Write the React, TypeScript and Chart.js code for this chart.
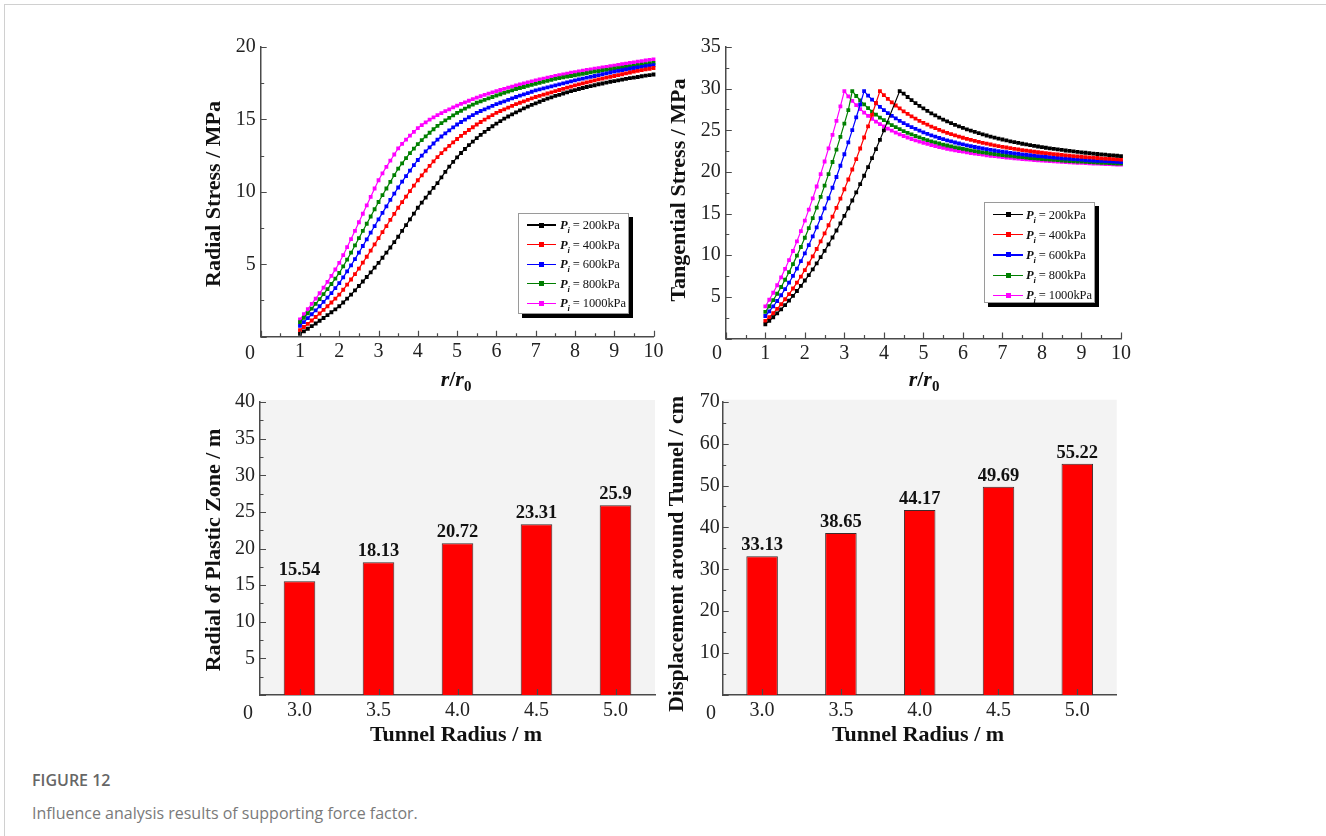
import React, { useEffect, useRef } from 'react';
import { Chart, registerables } from 'chart.js';
Chart.register(...registerables);

const FONT = "'Liberation Serif', 'Times New Roman', serif";

// r / r0 grid
const R = [1.0,1.1,1.2,1.3,1.4,1.5,1.6,1.7,1.8,1.9,2.0,2.1,2.2,2.3,2.4,2.5,2.6,2.7,2.8,2.9,3.0,3.1,3.2,3.3,3.4,3.5,3.6,3.7,3.8,3.9,4.0,4.1,4.2,4.3,4.4,4.5,4.6,4.7,4.8,4.9,5.0,5.1,5.2,5.3,5.4,5.5,5.6,5.7,5.8,5.9,6.0,6.1,6.2,6.3,6.4,6.5,6.6,6.7,6.8,6.9,7.0,7.1,7.2,7.3,7.4,7.5,7.6,7.7,7.8,7.9,8.0,8.1,8.2,8.3,8.4,8.5,8.6,8.7,8.8,8.9,9.0,9.1,9.2,9.3,9.4,9.5,9.6,9.7,9.8,9.9,10.0];

const SERIES_LABELS = ['200kPa', '400kPa', '600kPa', '800kPa', '1000kPa'];
const SERIES_COLORS = ['#000000', '#ff0000', '#0000ff', '#008000', '#ff00ff'];

// Radial stress (MPa)
const radial200 = [0.20,0.37,0.55,0.73,0.91,1.10,1.29,1.49,1.69,1.89,2.10,2.36,2.63,2.91,3.20,3.50,3.81,4.12,4.44,4.77,5.10,5.45,5.80,6.16,6.53,6.90,7.30,7.70,8.10,8.50,8.90,9.25,9.60,9.94,10.27,10.60,11.00,11.38,11.74,12.07,12.38,12.68,12.96,13.22,13.47,13.71,13.93,14.14,14.34,14.53,14.71,14.88,15.05,15.20,15.35,15.49,15.63,15.76,15.88,16.00,16.11,16.22,16.33,16.43,16.52,16.62,16.70,16.79,16.87,16.95,17.02,17.10,17.17,17.24,17.30,17.36,17.43,17.48,17.54,17.60,17.65,17.70,17.75,17.80,17.85,17.89,17.93,17.98,18.02,18.06,18.10];
const radial400 = [0.45,0.67,0.89,1.12,1.36,1.60,1.85,2.10,2.36,2.63,2.90,3.24,3.59,3.95,4.32,4.70,5.11,5.52,5.94,6.37,6.80,7.22,7.64,8.06,8.48,8.90,9.29,9.67,10.05,10.43,10.80,11.14,11.47,11.79,12.10,12.40,12.67,12.93,13.18,13.42,13.65,13.86,14.07,14.27,14.46,14.65,14.82,14.99,15.15,15.30,15.45,15.58,15.70,15.82,15.94,16.05,16.15,16.25,16.35,16.45,16.55,16.63,16.71,16.79,16.87,16.95,17.03,17.11,17.19,17.27,17.35,17.42,17.49,17.56,17.63,17.70,17.76,17.82,17.88,17.94,18.00,18.06,18.12,18.18,18.24,18.30,18.35,18.40,18.45,18.50,18.55];
const radial600 = [0.75,1.01,1.28,1.55,1.82,2.10,2.40,2.70,3.01,3.35,3.70,4.10,4.51,4.93,5.36,5.80,6.26,6.72,7.18,7.64,8.10,8.55,9.00,9.44,9.88,10.30,10.70,11.09,11.47,11.84,12.20,12.50,12.79,13.07,13.34,13.60,13.82,14.04,14.25,14.45,14.65,14.82,14.99,15.15,15.30,15.45,15.58,15.70,15.82,15.94,16.05,16.15,16.25,16.35,16.45,16.55,16.64,16.73,16.82,16.91,17.00,17.07,17.14,17.21,17.28,17.35,17.42,17.49,17.56,17.63,17.70,17.76,17.82,17.88,17.94,18.00,18.06,18.12,18.18,18.24,18.30,18.35,18.40,18.45,18.50,18.55,18.59,18.63,18.67,18.71,18.75];
const radial800 = [1.00,1.31,1.62,1.94,2.27,2.60,2.94,3.29,3.64,4.01,4.40,4.85,5.32,5.80,6.30,6.80,7.30,7.80,8.30,8.80,9.30,9.77,10.23,10.69,11.15,11.60,11.97,12.33,12.67,12.99,13.30,13.57,13.83,14.08,14.32,14.55,14.74,14.93,15.11,15.28,15.45,15.60,15.75,15.89,16.02,16.15,16.25,16.35,16.45,16.55,16.65,16.74,16.83,16.92,17.01,17.10,17.17,17.24,17.31,17.38,17.45,17.52,17.59,17.66,17.73,17.80,17.85,17.90,17.95,18.00,18.05,18.10,18.15,18.20,18.25,18.30,18.34,18.38,18.42,18.46,18.50,18.54,18.58,18.62,18.66,18.70,18.74,18.78,18.82,18.86,18.90];
const radial1000 = [1.20,1.55,1.90,2.26,2.63,3.00,3.39,3.79,4.20,4.64,5.10,5.63,6.18,6.74,7.31,7.90,8.49,9.07,9.65,10.23,10.80,11.28,11.72,12.15,12.58,13.00,13.31,13.60,13.88,14.14,14.40,14.61,14.80,14.98,15.14,15.30,15.44,15.57,15.70,15.83,15.95,16.07,16.18,16.29,16.40,16.50,16.60,16.69,16.78,16.87,16.95,17.03,17.11,17.19,17.27,17.35,17.42,17.49,17.56,17.63,17.70,17.76,17.82,17.88,17.94,18.00,18.05,18.11,18.16,18.22,18.27,18.32,18.36,18.41,18.45,18.50,18.54,18.59,18.63,18.68,18.72,18.76,18.81,18.85,18.90,18.94,18.98,19.02,19.07,19.11,19.15];

// Tangential stress (MPa)
const tang200 = [1.70,2.11,2.55,3.01,3.50,4.01,4.55,5.12,5.70,6.32,6.96,7.62,8.31,9.02,9.76,10.52,11.31,12.13,12.97,13.83,14.72,15.64,16.57,17.54,18.53,19.54,20.58,21.65,22.74,23.85,24.99,null,null,null,29.70,29.40,29.00,28.62,28.26,27.93,27.62,27.32,27.04,26.78,26.53,26.29,26.07,25.86,25.66,25.47,25.29,25.12,24.95,24.80,24.65,24.51,24.37,24.24,24.12,24.00,23.89,23.78,23.67,23.57,23.48,23.38,23.30,23.21,23.13,23.05,22.98,22.90,22.83,22.76,22.70,22.64,22.57,22.52,22.46,22.40,22.35,22.30,22.25,22.20,22.15,22.11,22.07,22.02,21.98,21.94,21.90];
const tang400 = [2.10,2.55,3.03,3.56,4.11,4.71,5.33,6.00,6.70,7.44,8.21,9.02,9.86,10.75,11.66,12.62,13.60,14.63,15.69,16.79,17.92,19.09,20.29,21.54,22.81,24.13,25.47,26.86,28.28,29.70,29.22,28.77,28.36,27.98,27.62,27.28,26.97,26.68,26.40,26.14,25.90,25.67,25.45,25.25,25.06,24.88,24.70,24.54,24.38,24.24,24.10,23.96,23.84,23.72,23.60,23.49,23.39,23.29,23.19,23.10,23.01,22.93,22.85,22.77,22.69,22.62,22.55,22.49,22.42,22.36,22.30,22.25,22.19,22.14,22.09,22.04,21.99,21.95,21.90,21.86,21.82,21.78,21.74,21.71,21.67,21.63,21.60,21.57,21.54,21.51,21.48];
const tang600 = [2.70,3.26,3.86,4.50,5.19,5.92,6.70,7.51,8.38,9.28,10.23,11.22,12.26,13.34,14.46,15.63,16.84,18.10,19.39,20.74,22.12,23.55,25.02,26.54,28.10,29.70,29.17,28.68,28.23,27.81,27.43,27.07,26.74,26.43,26.14,25.87,25.61,25.38,25.16,24.95,24.75,24.57,24.39,24.23,24.07,23.93,23.79,23.66,23.53,23.41,23.30,23.19,23.09,22.99,22.90,22.81,22.73,22.65,22.57,22.50,22.42,22.36,22.29,22.23,22.17,22.11,22.06,22.00,21.95,21.90,21.86,21.81,21.77,21.72,21.68,21.64,21.61,21.57,21.53,21.50,21.47,21.43,21.40,21.37,21.34,21.32,21.29,21.26,21.24,21.21,21.19];
const tang800 = [3.20,3.87,4.60,5.37,6.18,7.05,7.96,8.93,9.94,10.99,12.10,13.25,14.46,15.71,17.00,18.35,19.74,21.19,22.68,24.21,25.80,27.43,29.70,29.12,28.59,28.11,27.66,27.25,26.88,26.53,26.21,25.91,25.63,25.37,25.13,24.90,24.69,24.50,24.31,24.14,23.97,23.82,23.67,23.54,23.41,23.28,23.17,23.06,22.95,22.85,22.76,22.67,22.58,22.50,22.42,22.35,22.28,22.21,22.15,22.09,22.03,21.97,21.92,21.86,21.81,21.77,21.72,21.67,21.63,21.59,21.55,21.51,21.48,21.44,21.41,21.37,21.34,21.31,21.28,21.25,21.23,21.20,21.17,21.15,21.12,21.10,21.08,21.06,21.03,21.01,20.99];
const tang1000 = [3.85,4.65,5.49,6.39,7.35,8.35,9.41,10.51,11.67,12.89,14.15,15.47,16.83,18.25,19.73,21.25,22.83,24.45,26.13,27.87,29.70,29.08,28.53,28.02,27.55,27.13,26.74,26.38,26.05,25.74,25.46,25.19,24.95,24.72,24.51,24.31,24.13,23.95,23.79,23.64,23.49,23.36,23.23,23.11,22.99,22.89,22.78,22.69,22.60,22.51,22.43,22.35,22.27,22.20,22.13,22.07,22.00,21.94,21.89,21.83,21.78,21.73,21.68,21.64,21.59,21.55,21.51,21.47,21.43,21.40,21.36,21.33,21.30,21.27,21.24,21.21,21.18,21.15,21.13,21.10,21.08,21.05,21.03,21.01,20.99,20.97,20.95,20.93,20.91,20.89,20.87];

// Bar panels
const TUNNEL_RADIUS = ['3.0', '3.5', '4.0', '4.5', '5.0'];
const plasticZone = [15.54, 18.13, 20.72, 23.31, 25.9];
const displacement = [33.13, 38.65, 44.17, 49.69, 55.22];

const AXIS_COLOR = '#4a4a4a';
const TICK_COLOR = '#222';
const TICK_SIZE = 20;

const inwardTicks = {
  id: 'inwardTicks',
  afterDraw(chart: any, _args: any, opts: any) {
    if (!opts || !opts.enabled) return;
    const { ctx, chartArea } = chart;
    const xs = chart.scales.x;
    const ys = chart.scales.y;
    const major = 6;
    const minor = 3.5;
    ctx.save();
    ctx.strokeStyle = AXIS_COLOR;
    ctx.lineWidth = 1.2;
    ctx.beginPath();
    const xb = chartArea.bottom;
    const yl = chartArea.left;
    if (opts.category) {
      for (let i = 0; i < chart.data.labels.length; i++) {
        const px = Math.round(xs.getPixelForValue(i)) + 0.5;
        ctx.moveTo(px, xb); ctx.lineTo(px, xb - major);
      }
    } else {
      const xv = xs.ticks.map((t: any) => t.value);
      xv.forEach((v: number, i: number) => {
        const px = Math.round(xs.getPixelForValue(v)) + 0.5;
        ctx.moveTo(px, xb); ctx.lineTo(px, xb - major);
        if (i < xv.length - 1) {
          const pm = Math.round(xs.getPixelForValue((v + xv[i + 1]) / 2)) + 0.5;
          ctx.moveTo(pm, xb); ctx.lineTo(pm, xb - minor);
        }
      });
    }
    const yv = ys.ticks.map((t: any) => t.value);
    yv.forEach((v: number, i: number) => {
      const py = Math.round(ys.getPixelForValue(v)) + 0.5;
      ctx.moveTo(yl, py); ctx.lineTo(yl + major, py);
      if (i < yv.length - 1) {
        const pm = Math.round(ys.getPixelForValue((v + yv[i + 1]) / 2)) + 0.5;
        ctx.moveTo(yl, pm); ctx.lineTo(yl + minor, pm);
      }
    });
    ctx.stroke();
    ctx.restore();
  },
};

const plotBg = {
  id: 'plotBg',
  beforeDraw(chart: any, _args: any, opts: any) {
    if (!opts || !opts.color) return;
    const { ctx, chartArea } = chart;
    ctx.save();
    ctx.fillStyle = opts.color;
    ctx.fillRect(chartArea.left, chartArea.top - 2, chartArea.right - chartArea.left, chartArea.bottom - chartArea.top + 2);
    ctx.restore();
  },
};

const barLabels = {
  id: 'barLabels',
  afterDatasetsDraw(chart: any, _args: any, opts: any) {
    if (!opts || !opts.enabled) return;
    const { ctx } = chart;
    const meta = chart.getDatasetMeta(0);
    const ds = chart.data.datasets[0];
    ctx.save();
    ctx.font = `bold 18.5px ${FONT}`;
    ctx.fillStyle = '#111';
    ctx.textAlign = 'center';
    ctx.textBaseline = 'alphabetic';
    meta.data.forEach((el: any, i: number) => {
      ctx.fillText(String(ds.data[i]), el.x, el.y - 6);
    });
    ctx.restore();
  },
};

Chart.register(inwardTicks, plotBg, barLabels);

function lineConfig(seriesValues: (number | null)[][], yMax: number, yStep: number, yAxisW: number, pad: any) {
  return {
    type: 'line',
    data: {
      datasets: seriesValues.map((vals, k) => ({
        label: SERIES_LABELS[k],
        data: R.map((r, i) => ({ x: r, y: vals[i] })),
        borderColor: SERIES_COLORS[k],
        backgroundColor: SERIES_COLORS[k],
        pointBackgroundColor: SERIES_COLORS[k],
        pointBorderColor: SERIES_COLORS[k],
        pointBorderWidth: 0,
        pointStyle: 'rect',
        pointRadius: 2.7,
        borderWidth: 1.2,
        spanGaps: true,
        clip: 8,
      })),
    },
    options: {
      animation: false,
      responsive: false,
      maintainAspectRatio: false,
      layout: { padding: pad },
      plugins: {
        legend: { display: false },
        tooltip: { enabled: false },
        inwardTicks: { enabled: true },
      },
      scales: {
        x: {
          type: 'linear', min: 0, max: 10,
          grid: { display: false, drawTicks: false },
          border: { display: true, color: AXIS_COLOR, width: 1.5 },
          ticks: {
            stepSize: 1, padding: 3, autoSkip: false, maxRotation: 0,
            color: TICK_COLOR, font: { family: FONT, size: TICK_SIZE },
            callback: (v: number) => (v === 0 ? '' : String(v)),
          },
          afterFit: (s: any) => { s.height = 30; },
        },
        y: {
          type: 'linear', min: 0, max: yMax,
          grid: { display: false, drawTicks: false },
          border: { display: true, color: AXIS_COLOR, width: 1.5 },
          ticks: {
            stepSize: yStep, padding: 5, autoSkip: false,
            color: TICK_COLOR, font: { family: FONT, size: TICK_SIZE },
            callback: (v: number) => (v === 0 ? '' : String(v)),
          },
          afterFit: (s: any) => { s.width = yAxisW; },
        },
      },
    },
  };
}

function barConfig(values: number[], yMax: number, yStep: number, yAxisW: number, pad: any, yPad: number) {
  return {
    type: 'bar',
    data: {
      labels: TUNNEL_RADIUS,
      datasets: [{
        data: values,
        backgroundColor: '#ff0000',
        borderColor: '#3d2b2b',
        borderWidth: 1,
        barPercentage: 0.4,
        categoryPercentage: 1,
      }],
    },
    options: {
      animation: false,
      responsive: false,
      maintainAspectRatio: false,
      layout: { padding: pad },
      plugins: {
        legend: { display: false },
        tooltip: { enabled: false },
        inwardTicks: { enabled: true, category: true },
        plotBg: { color: '#f3f3f3' },
        barLabels: { enabled: true },
      },
      scales: {
        x: {
          type: 'category', offset: true,
          grid: { display: false, drawTicks: false },
          border: { display: true, color: AXIS_COLOR, width: 1.5 },
          ticks: { padding: 4, color: TICK_COLOR, font: { family: FONT, size: TICK_SIZE }, maxRotation: 0 },
          afterFit: (s: any) => { s.height = 30; },
        },
        y: {
          type: 'linear', min: 0, max: yMax,
          grid: { display: false, drawTicks: false },
          border: { display: true, color: AXIS_COLOR, width: 1.5 },
          ticks: {
            stepSize: yStep, padding: yPad, autoSkip: false,
            color: TICK_COLOR, font: { family: FONT, size: TICK_SIZE },
            callback: (v: number) => (v === 0 ? '' : String(v)),
          },
          afterFit: (s: any) => { s.width = yAxisW; },
        },
      },
    },
  };
}

function ChartBox(props: { left: number; top: number; width: number; height: number; make: () => any }) {
  const ref = useRef<HTMLCanvasElement | null>(null);
  useEffect(() => {
    if (!ref.current) return;
    const chart = new Chart(ref.current, props.make());
    return () => chart.destroy();
  }, []);
  return (
    <canvas
      ref={ref}
      width={props.width}
      height={props.height}
      style={{ position: 'absolute', left: props.left, top: props.top, width: props.width, height: props.height }}
    />
  );
}

function YTitle({ x, y, children }: any) {
  return (
    <div style={{ position: 'absolute', left: x, top: y, transform: 'translate(-50%, -50%) rotate(-90deg)', whiteSpace: 'nowrap', fontFamily: FONT, fontWeight: 'bold', fontSize: 22, color: '#111', lineHeight: '24px' }}>
      {children}
    </div>
  );
}

function XTitle({ x, y, children }: any) {
  return (
    <div style={{ position: 'absolute', left: x, top: y, transform: 'translate(-50%, -50%)', whiteSpace: 'nowrap', fontFamily: FONT, fontWeight: 'bold', fontSize: 22, color: '#111', lineHeight: '24px' }}>
      {children}
    </div>
  );
}

function Zero({ x, y }: any) {
  return (
    <div style={{ position: 'absolute', left: x, top: y, transform: 'translate(-50%, -50%)', fontFamily: FONT, fontSize: TICK_SIZE, color: TICK_COLOR, lineHeight: '20px' }}>0</div>
  );
}

function RR0() {
  return (
    <span>
      <i>r</i>/<i>r</i>
      <span style={{ fontSize: 15, position: 'relative', top: 5 }}>0</span>
    </span>
  );
}

function Legend({ left, top, width, height, rowTop, rowStep, lineX, lineW, textX }: any) {
  return (
    <div style={{ position: 'absolute', left, top, width, height, background: '#fff', border: '1px solid #9a9a9a', boxShadow: '4px 4px 0 #000', boxSizing: 'border-box' }}>
      {SERIES_LABELS.map((lab, k) => {
        const cy = rowTop + k * rowStep;
        return (
          <React.Fragment key={lab}>
            <div style={{ position: 'absolute', left: lineX, top: cy - 0.6, width: lineW, height: 1.3, background: SERIES_COLORS[k] }} />
            <div style={{ position: 'absolute', left: lineX + lineW / 2 - 2.5, top: cy - 2.5, width: 5, height: 5, background: SERIES_COLORS[k] }} />
            <div style={{ position: 'absolute', left: textX, top: cy - 9, height: 18, lineHeight: '18px', whiteSpace: 'nowrap', fontFamily: FONT, fontSize: 12.5, color: '#111', letterSpacing: '-0.1px' }}>
              <b><i>P</i></b>
              <span style={{ fontSize: 8.5, position: 'relative', top: 4, fontStyle: 'italic', fontWeight: 'bold' }}>i</span>
              {' = ' + lab}
            </div>
          </React.Fragment>
        );
      })}
    </div>
  );
}

export default function App() {
  return (
    <div style={{ position: 'absolute', left: 0, top: 0, width: 1326, height: 836, background: '#fff', overflow: 'hidden' }}>
      <div style={{ position: 'absolute', left: 4, top: 4, right: -2, bottom: -2, borderLeft: '1px solid #d0d0d0', borderTop: '1px solid #d0d0d0' }} />

      <ChartBox left={200} top={30} width={470} height={340}
        make={() => lineConfig([radial200, radial400, radial600, radial800, radial1000], 20, 5, 60.7, { left: 0, top: 14, right: 16.5, bottom: 3.3 })} />
      <ChartBox left={660} top={30} width={480} height={340}
        make={() => lineConfig([tang200, tang400, tang600, tang800, tang1000], 35, 5, 65.8, { left: 0, top: 14.5, right: 19, bottom: 1.5 })} />
      <ChartBox left={200} top={380} width={470} height={345}
        make={() => barConfig(plasticZone, 40, 5, 60, { left: 0, top: 22, right: 15, bottom: 0 }, 5)} />
      <ChartBox left={660} top={380} width={470} height={345}
        make={() => barConfig(displacement, 70, 10, 62.7, { left: 0, top: 21.7, right: 13.3, bottom: 0 }, 3)} />

      <YTitle x={213} y={194}>Radial Stress / MPa</YTitle>
      <YTitle x={678} y={190}>Tangential Stress / MPa</YTitle>
      <YTitle x={213} y={550}>Radial of Plastic Zone / m</YTitle>
      <YTitle x={676} y={554}>Displacement around Tunnel / cm</YTitle>

      <XTitle x={456} y={380}><RR0 /></XTitle>
      <XTitle x={924} y={380}><RR0 /></XTitle>
      <XTitle x={456} y={734}>Tunnel Radius / m</XTitle>
      <XTitle x={918} y={734}>Tunnel Radius / m</XTitle>

      <Zero x={250} y={352} />
      <Zero x={717} y={352} />
      <Zero x={248} y={712} />
      <Zero x={711} y={712} />

      <Legend left={518} top={213} width={111} height={101} rowTop={11} rowStep={19.6} lineX={8} lineW={29} textX={41} />
      <Legend left={984} top={202} width={111} height={101} rowTop={11.5} rowStep={20.2} lineX={8} lineW={30} textX={41} />

      <div style={{ position: 'absolute', left: 32, top: 769, lineHeight: '22px', fontFamily: "'Open Sans', 'Noto Sans', sans-serif", fontWeight: 600, fontSize: 16, color: '#666' }}>FIGURE 12</div>
      <div style={{ position: 'absolute', left: 32, top: 802, lineHeight: '22px', fontFamily: "'Open Sans', 'Noto Sans', sans-serif", fontWeight: 400, fontSize: 16, color: '#7a7a7a' }}>Influence analysis results of supporting force factor.</div>
    </div>
  );
}
